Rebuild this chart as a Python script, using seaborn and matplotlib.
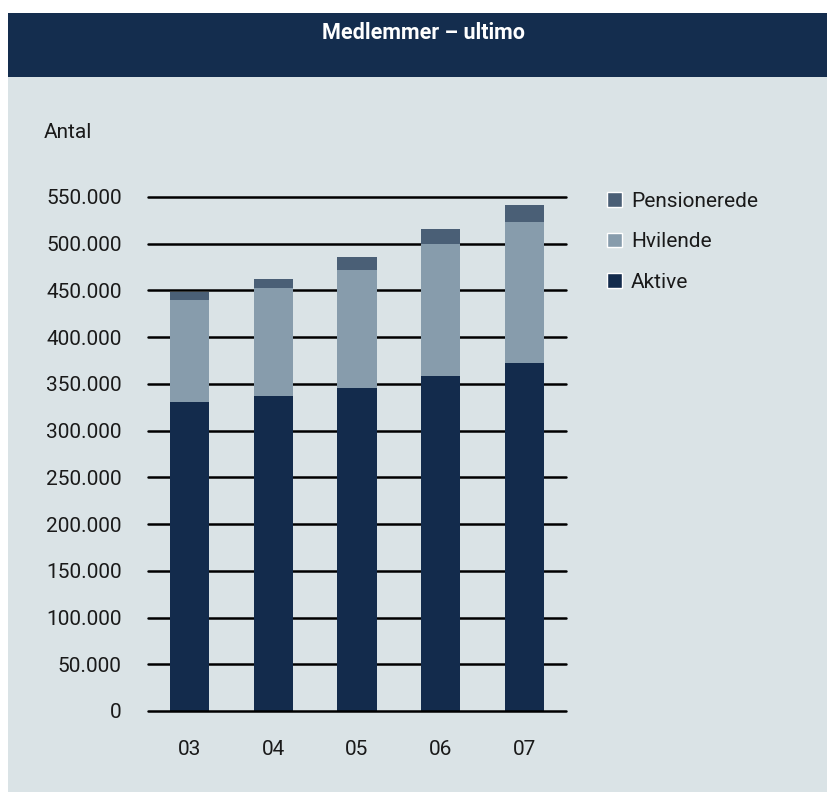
import numpy as np
import pandas as pd
import matplotlib
matplotlib.use('Agg')
import matplotlib.pyplot as plt
from matplotlib.patches import Rectangle, Patch
from matplotlib.ticker import FuncFormatter
import seaborn as sns

# Data (members at year end)
years = ['03', '04', '05', '06', '07']
aktive = [330300, 336800, 345300, 358200, 372800]
hvilende = [109200, 115500, 126300, 141200, 150100]
pensionerede = [8900, 10400, 14600, 16800, 19000]

BG = '#dae3e6'
HEADER = '#142d4e'
C_AKTIVE = '#132b4c'
C_HVIL = '#879cac'
C_PENS = '#4a5f76'

sns.set_theme(style='white')
plt.rcParams['font.family'] = ['Roboto', 'DejaVu Sans']

df = pd.DataFrame({'year': years, 'Aktive': aktive,
                   'Hvilende': hvilende, 'Pensionerede': pensionerede})
df['lvl2'] = df['Aktive'] + df['Hvilende']
df['lvl3'] = df['lvl2'] + df['Pensionerede']

W, H = 828, 792
fig = plt.figure(figsize=(W / 100, H / 100), dpi=100, facecolor='white')

# panel backgrounds
fig.patches.append(Rectangle((8 / W, 0), 1 - 8 / W, 1 - 13 / H, transform=fig.transFigure,
                             facecolor=BG, edgecolor='none', zorder=-2))
fig.patches.append(Rectangle((8 / W, 1 - 77 / H), 1 - 8 / W, 64 / H, transform=fig.transFigure,
                             facecolor=HEADER, edgecolor='none', zorder=-1))
fig.text(424 / W, 1 - 33 / H, 'Medlemmer – ultimo', color='white', fontsize=15.5,
         fontweight='bold', ha='center', va='center')
fig.text(44 / W, 1 - 133 / H, 'Antal', color='#1a1a1a', fontsize=15, ha='left', va='center')

ymax = 556000
px_per = 514 / 550000
top_px = 711 - ymax * px_per
ax = fig.add_axes([148 / W, 1 - 711 / H, 418 / W, (711 - top_px) / H])
ax.set_facecolor('none')

bw = 0.47
kw = dict(width=bw, saturation=1, ax=ax, zorder=3, linewidth=0, edgecolor='none')
sns.barplot(data=df, x='year', y='lvl3', color=C_PENS, **kw)
sns.barplot(data=df, x='year', y='lvl2', color=C_HVIL, **kw)
sns.barplot(data=df, x='year', y='Aktive', color=C_AKTIVE, **kw)

ax.set_ylim(0, ymax)
ax.set_xlim(-0.5, 4.5)
ax.set_yticks(np.arange(0, 550001, 50000))
ax.yaxis.set_major_formatter(FuncFormatter(lambda v, p: f'{int(v):,}'.replace(',', '.')))
for yv in np.arange(0, 550001, 50000):
    ax.axhline(yv, color='black', lw=1.8, zorder=4 if yv == 0 else 2, clip_on=False)
for s in ax.spines.values():
    s.set_visible(False)
ax.set_xlabel('')
ax.set_ylabel('')
ax.tick_params(axis='y', length=0, pad=19, labelsize=15, labelcolor='#1a1a1a')
ax.tick_params(axis='x', length=0, pad=21, labelsize=15, labelcolor='#1a1a1a')

handles = [Patch(facecolor=C_PENS, label='Pensionerede'),
           Patch(facecolor=C_HVIL, label='Hvilende'),
           Patch(facecolor=C_AKTIVE, label='Aktive')]
fig.legend(handles=handles, loc='upper left', bbox_to_anchor=(607 / W, 1 - 192 / H),
           frameon=False, fontsize=15, handlelength=0.7, handleheight=0.7,
           handletextpad=0.45, labelspacing=1.03, borderpad=0, borderaxespad=0,
           labelcolor='#1a1a1a')

fig.savefig('out.png', dpi=100, facecolor='white')
